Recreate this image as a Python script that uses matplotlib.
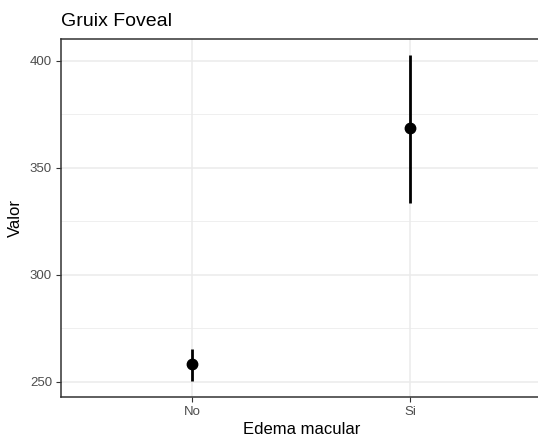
import matplotlib
matplotlib.use('Agg')
import matplotlib.pyplot as plt

# data
categories = ['No', 'Si']
means = [258.3, 368.4]
lower = [250.2, 333.5]
upper = [265.2, 402.8]

plt.rcParams['font.family'] = ['Liberation Sans', 'DejaVu Sans']

fig = plt.figure(figsize=(5.38, 4.37), dpi=100)
ax = fig.add_axes([61/538, 40.3/437, 480.5/538, 358/437])

xs = list(range(1, len(categories) + 1))
yerr = [[m - l for m, l in zip(means, lower)], [u - m for m, u in zip(means, upper)]]
ax.errorbar(xs, means, yerr=yerr, fmt='o', color='black', ecolor='black',
            elinewidth=2, markersize=7.5, capsize=0, zorder=3)

ax.set_xlim(0.4, 2.6)
ax.set_ylim(243, 410.3)
ax.set_xticks(xs)
ax.set_xticklabels(categories)
ax.set_yticks([250, 300, 350, 400])
ax.set_yticks([275, 325, 375], minor=True)

# theme_bw style
ax.grid(True, which='major', color='#EBEBEB', linewidth=1.1)
ax.grid(True, which='minor', axis='y', color='#EBEBEB', linewidth=0.55)
ax.set_axisbelow(True)
for s in ax.spines.values():
    s.set_color('#333333')
    s.set_linewidth(1.1)
ax.tick_params(which='major', length=3.5, width=0.8, color='#333333',
               labelsize=9.5, labelcolor='#4D4D4D', pad=3)
ax.tick_params(which='minor', length=0)

ax.set_xlabel('Edema macular', fontsize=12, labelpad=3)
ax.set_ylabel('Valor', fontsize=12, labelpad=5)
fig.text(61/538, 1 - 21/437, 'Gruix Foveal', fontsize=14, va='center', ha='left')

fig.savefig('out.png', dpi=100)
